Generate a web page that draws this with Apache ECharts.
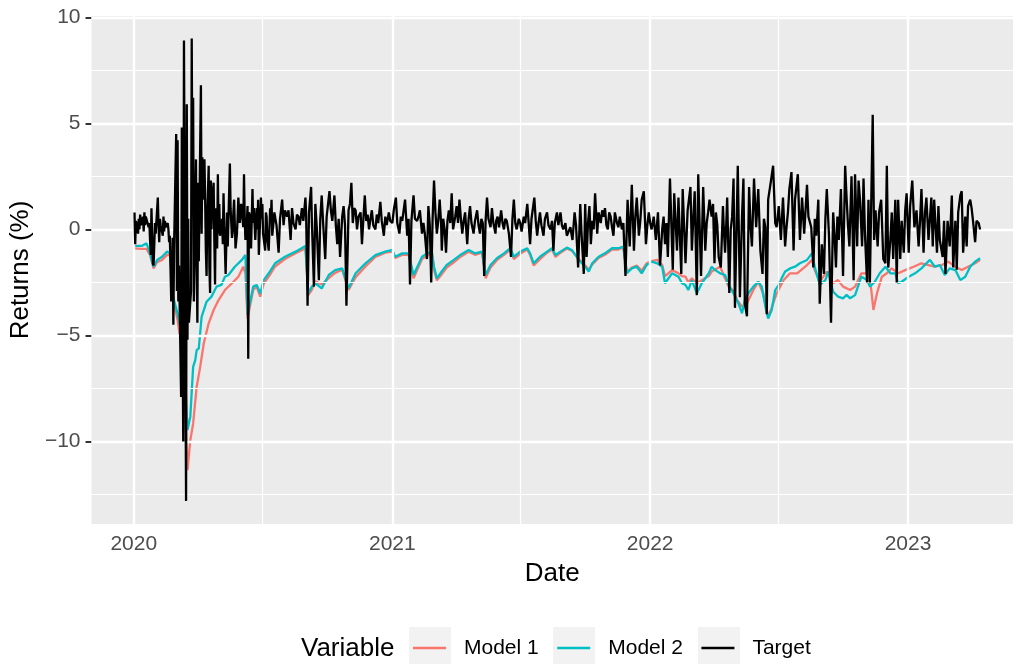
<!DOCTYPE html>
<html>
<head>
<meta charset="utf-8">
<script src="https://cdn.jsdelivr.net/npm/echarts@6/dist/echarts.min.js"></script>
<style>
  html, body { margin: 0; padding: 0; background: #fff; }
  #main { width: 1013px; height: 664px; }
</style>
</head>
<body>
<div id="main"></div>
<script>
// day offsets are counted from 2020-01-01, values in %
const target = [
  [1,0.8],[2,-0.7],[3,0.4],[6,-0.2],[7,0.5],[8,0.0],[9,0.7],[10,0.2],[13,0.6],[14,-0.1],[15,0.8],[16,0.2],[17,0.6],[21,0.1],[22,0.3],[23,-0.5],[24,-1.2],[25,1.0],[27,-1.6],[28,-1.7],[30,0.3],[31,-0.2],[34,1.5],[35,0.2],[36,-0.6],[37,0.5],[38,0.2],[41,-0.3],[42,0.6],[43,-0.1],[44,0.4],[45,0.1],[48,0.3],[49,0.0],[50,-0.6],[51,-0.3],
  [53,-3.4],[54,-3.0],[55,-0.4],[56,-4.5],[57,-0.8],[60,4.5],[61,-2.9],[62,4.2],[63,-3.4],[64,-1.7],[67,-7.9],[68,4.8],[69,-4.9],[70,-10.0],[71,8.9],[74,-12.8],[75,5.9],[76,-5.2],[77,0.5],[78,-4.4],[81,-2.9],[82,9.0],[83,1.1],[84,6.2],[85,-3.4],[88,3.3],[89,-1.6],[90,-4.4],[91,2.2],[92,-1.5],[95,6.8],[96,-0.2],[97,3.4],[98,1.4],
  [100,3.3],[101,1.4],[102,-1.0],[103,-2.2],[104,0.6],[106,3.0],[107,-1.8],[108,-3.0],[109,2.3],[110,0.0],[111,1.4],[113,2.2],[114,-0.5],[115,-2.6],[116,1.0],[118,-0.9],[119,2.6],[120,-0.2],[121,1.2],[122,-0.3],[125,0.5],[126,-0.7],[127,1.7],[128,0.2],[130,-2.1],[132,0.8],[133,-0.8],[134,0.5],[136,3.1],[137,1.0],[139,-0.4],[140,-0.1],[141,0.8],[142,1.4],[144,-0.9],[146,-0.2],[147,0.6],[148,1.5],[150,0.3],[152,1.2],[153,0.8],[155,0.1],[156,2.6],[157,0.5],[158,-0.5],[160,0.3],[161,1.1],[162,-6.1],[163,0.8],[165,0.6],[166,-0.9],[168,1.9],[169,0.3],[170,1.0],[172,-0.5],[174,1.0],[175,0.0],[176,1.4],[177,-1.2],[180,1.5],[181,0.5],[182,1.2],[183,-0.2],[186,-1.0],[187,0.8],[188,0.6],[189,-0.4],[191,-1.0],[193,1.0],[194,0.6],[195,1.4],[196,-0.3],[198,0.4],[199,0.8],
  [200,0.8],[202,0.2],[205,-1.1],[207,0.5],[210,1.4],[212,0.2],[214,0.9],[217,0.6],[219,0.9],[222,-0.5],[224,1.0],[226,0.3],[229,0.0],[231,0.7],[233,0.6],[235,0.2],[238,1.0],[240,0.4],[243,1.5],[244,0.6],[246,-3.6],[248,0.8],[251,2.0],[252,0.5],[255,-2.7],[257,1.2],[259,0.1],[262,-2.4],[264,0.5],[266,1.6],[268,0.3],[271,-1.4],[273,0.6],[277,1.8],[279,0.9],[281,0.4],[284,1.6],[286,0.2],[288,-0.7],[290,0.5],[292,-1.3],[295,0.6],[297,1.1],[299,0.2],[301,-3.6],[304,0.9],[306,1.2],[308,2.2],[310,0.3],[312,1.0],[314,0.9],[316,0.0],[318,0.6],[321,0.8],[323,-0.7],[325,0.5],[327,1.6],[329,0.4],[331,0.7],[333,0.0],[335,0.5],[337,0.9],[339,0.2],[342,0.0],[344,0.7],[346,0.3],[349,1.3],[351,0.4],[354,-0.3],[356,0.6],[358,0.2],[361,0.8],[363,0.4],[366,0.3],[368,0.9],[371,1.5],[373,0.3],[376,-0.2],[378,0.6],[380,0.4],[382,0.9],[384,1.4],[386,0.3],[387,-0.3],[389,0.5],[391,-2.6],[393,0.4],[396,1.6],[398,0.5],[401,0.4],[403,0.6],[405,0.9],
  [408,-0.2],[410,0.3],[412,-0.2],[415,-1.4],[417,1.1],[419,0.2],[421,-2.5],[423,0.5],[425,2.3],[427,0.8],[429,-0.2],[431,0.4],[433,1.4],[435,0.3],[436,-1.0],[438,0.5],[440,0.0],[442,-1.1],[444,0.4],[446,0.9],[448,0.3],[450,1.7],[452,0.0],[455,0.6],[457,1.1],[459,0.3],[461,1.4],[463,0.5],[465,-0.2],[467,0.4],[469,0.8],[472,-0.7],[474,0.5],[476,1.1],[478,0.3],[481,-0.2],[483,0.4],[486,0.9],[488,0.2],[490,-0.2],[492,0.5],[494,0.3],[496,-2.2],[498,0.4],[500,1.5],[502,0.5],[505,0.1],[507,1.0],[509,0.3],[512,-0.2],[513,0.4],[515,0.6],[517,0.1],[520,0.9],[522,0.3],[524,0.0],[526,0.5],[528,0.4],[531,-0.2],[534,-1.3],[536,0.5],[538,1.4],[540,0.3],[542,0.0],[545,0.5],[547,0.3],[549,-0.1],[552,0.6],[554,0.3],[557,1.2],[559,0.3],[561,-0.7],[563,0.5],[567,1.5],[569,0.4],[571,-0.3],[573,0.3],[575,0.8],[577,0.2],[580,-0.3],[582,0.5],[585,0.8],[587,0.2],[590,0.0],[592,0.4],[594,-1.0],[596,0.3],[599,0.8],[601,0.2],[604,0.8],[606,0.2],[608,0.0],[611,0.3],[613,-0.3],
  [615,-0.3],[618,0.1],[621,-0.5],[624,0.8],[626,0.2],[629,-1.8],[632,1.2],[634,-0.3],[637,-2.1],[639,1.2],[641,-1.3],[643,0.3],[645,1.1],[647,-0.7],[649,0.4],[651,0.0],[653,1.7],[656,-0.2],[658,0.8],[661,0.3],[663,0.9],[665,0.6],[667,1.0],[669,0.2],[671,0.0],[673,0.8],[675,0.6],[677,0.1],[679,-0.3],[681,0.8],[684,0.3],[686,0.1],[688,0.6],[691,0.0],[693,0.3],[696,-2.2],[699,1.4],[702,-0.8],[705,2.1],[708,-1.0],[710,0.6],[712,1.5],[715,-0.3],[717,0.4],[719,1.4],[722,1.8],[725,-0.7],[727,0.2],[729,0.8],[731,0.3],[733,0.0],[736,0.6],[739,-0.5],[742,0.8],[745,-1.7],[748,0.0],[750,0.6],[752,-0.7],[754,0.3],[756,-1.3],[759,2.4],[763,-1.9],[765,1.7],[769,-1.0],[771,1.5],[775,-2.1],[777,1.9],[781,-1.6],[784,0.9],[788,2.0],[790,-1.0],[792,0.5],[794,1.8],[797,-3.1],[799,2.6],[803,-2.2],[806,2.0],[809,-1.0],[811,0.3],[813,0.8],[815,1.4],
  [818,0.6],[820,1.2],[822,-1.6],[824,0.8],[826,0.2],[828,-1.3],[831,-1.8],[834,1.1],[835,0.2],[837,-1.1],[839,0.5],[840,1.5],[843,-3.0],[845,0.0],[847,0.6],[849,2.4],[851,-3.7],[855,3.0],[858,-3.2],[861,0.6],[863,2.4],[865,-3.5],[868,-4.1],[871,2.0],[873,0.2],[875,-0.8],[878,2.4],[881,0.1],[884,1.9],[887,-1.0],[890,-2.1],[892,0.5],[894,0.1],[896,-4.0],[898,1.4],[902,2.3],[905,3.0],[908,0.3],[910,0.1],[913,1.1],[916,-0.5],[919,1.5],[922,-0.8],[924,0.1],[926,0.8],[928,1.9],[931,2.7],[934,-1.0],[936,1.4],[940,2.6],[943,-0.5],[946,1.5],[949,-0.2],[953,2.1],[955,0.6],[959,0.1],[962,-1.8],[964,0.5],[966,-0.3],[969,1.4],[971,-3.5],[974,-0.7],[977,-2.1],[979,0.5],[981,1.9],[984,-0.2],[987,-4.4],[990,0.8],[992,-0.3],[994,-1.8],[996,0.6],[998,-0.5],[1001,1.9],[1004,-2.2],[1007,3.0],[1009,1.5],[1011,0.2],[1013,-0.8],[1016,2.5],[1019,-2.4],
  [1021,2.6],[1024,-0.8],[1026,2.3],[1028,1.4],[1031,-0.8],[1033,2.4],[1035,-0.2],[1038,-2.5],[1040,1.4],[1042,-2.5],[1046,5.4],[1048,-0.5],[1050,0.9],[1053,-0.8],[1055,0.8],[1058,1.4],[1061,-1.4],[1064,-1.6],[1066,3.0],[1068,-1.8],[1071,-0.5],[1073,0.8],[1075,-1.4],[1078,1.4],[1080,-2.5],[1082,1.4],[1085,-1.4],[1087,0.4],[1090,-1.1],[1092,0.9],[1094,1.7],[1097,-1.1],[1099,1.1],[1102,2.3],[1105,0.1],[1108,0.9],[1111,-0.8],[1113,0.4],[1115,1.9],[1118,-1.1],[1120,0.8],[1122,1.5],[1125,-0.5],[1129,1.5],[1131,-0.8],[1133,1.4],[1137,-1.1],[1139,1.1],[1141,-0.5],[1145,-1.3],[1147,0.4],[1149,-2.1],[1152,0.4],[1155,-0.8],[1158,1.6],[1160,-1.8],[1163,0.4],[1165,-1.9],[1167,0.8],[1170,1.6],[1172,1.8],[1174,-1.1],[1177,0.6],[1179,-0.8],[1181,1.1],[1184,1.4],[1186,1.0],[1188,0.4],[1191,-0.6],[1193,0.4],[1196,0.3],[1198,0.0]
];

const model1 = [
  [1,-0.9],[11,-0.92],[18,-0.92],[23,-1.21],[28,-1.84],[33,-1.55],[40,-1.44],[47,-1.2],[52,-1.21],[54,-3.0],[58,-3.65],[62,-4.27],[68,-5.69],[73,-8.83],[76,-11.35],[80,-9.94],[84,-9.15],[89,-7.42],[94,-6.48],[99,-5.38],[106,-4.43],[113,-3.8],[120,-3.33],[129,-2.86],[139,-2.54],[148,-2.23],[155,-1.76],[158,-2.07],[161,-4.2],[169,-2.86],[174,-2.7],[179,-3.17],[184,-2.55],[191,-2.23],[200,-1.75],[214,-1.4],[229,-1.12],[243,-0.9],[247,-3.1],[252,-2.85],[257,-2.45],[266,-2.6],[276,-2.3],[285,-2.05],[295,-1.9],[304,-2.85],[314,-2.25],[328,-1.75],[342,-1.3],[356,-1.1],[366,-1.05],[370,-1.35],[380,-1.2],[389,-1.2],[396,-2.3],[408,-1.4],
  [415,-1.25],[422,-1.15],[425,-1.9],[429,-2.4],[434,-2.2],[443,-1.8],[453,-1.55],[462,-1.3],[474,-1.05],[483,-1.2],[493,-1.1],[498,-2.3],[505,-1.8],[514,-1.45],[524,-1.2],[533,-0.95],[538,-1.4],[547,-1.15],[557,-0.95],[561,-1.2],[566,-1.7],[575,-1.4],[585,-1.1],[592,-0.95],[597,-1.3],[604,-1.1],[613,-0.9],[620,-1.0],[630,-1.4],[639,-1.7],[644,-1.9],[649,-1.65],[658,-1.35],[667,-1.2],[677,-0.95],[686,-0.95],[693,-0.85],[698,-2.0],[705,-1.8],[712,-1.7],[719,-1.95],[726,-1.6],[733,-1.5],[741,-1.44],[748,-1.68],[752,-2.2],[762,-1.92],[771,-2.07],[776,-2.2],[781,-2.23],[785,-2.5],[790,-2.31],[797,-2.54],[804,-2.4],[814,-2.2],
  [818,-1.99],[830,-1.76],[842,-2.7],[849,-2.9],[854,-3.33],[861,-3.64],[868,-3.49],[877,-2.86],[884,-2.47],[891,-3.02],[898,-4.12],[903,-3.7],[910,-3.02],[920,-2.39],[929,-2.07],[939,-2.07],[953,-1.68],[960,-1.44],[964,-1.92],[971,-2.47],[981,-1.99],[990,-2.54],[997,-2.39],[1004,-2.7],[1014,-2.86],[1021,-2.7],[1030,-2.07],[1040,-2.07],[1044,-2.86],[1047,-3.8],[1052,-3.02],[1059,-2.23],[1066,-2.07],[1073,-1.84],[1082,-2.07],[1092,-1.92],[1104,-1.76],[1115,-1.6],[1125,-1.68],[1134,-1.76],[1144,-1.68],[1153,-1.52],[1163,-1.76],[1172,-1.92],[1181,-1.76],[1191,-1.6],[1198,-1.44]
];

const model2 = [
  [1,-0.78],[11,-0.78],[18,-0.66],[23,-1.13],[28,-1.76],[33,-1.44],[40,-1.29],[47,-1.05],[52,-1.13],[54,-2.9],[58,-3.49],[62,-3.96],[68,-4.9],[73,-7.26],[76,-9.46],[80,-8.83],[84,-6.48],[87,-6.16],[89,-5.69],[92,-5.61],[96,-4.12],[103,-3.41],[110,-3.17],[117,-2.7],[124,-2.62],[129,-2.23],[134,-2.15],[143,-1.76],[153,-1.44],[158,-1.21],[161,-4.04],[169,-2.7],[174,-2.62],[179,-3.02],[184,-2.39],[191,-2.07],[200,-1.6],[214,-1.29],[229,-1.05],[243,-0.78],[247,-3.02],[252,-2.7],[257,-2.54],[266,-2.78],[276,-2.15],[285,-1.92],[295,-1.84],[304,-2.78],[314,-2.07],[328,-1.6],[342,-1.21],[356,-1.05],[366,-0.97],[370,-1.29],[380,-1.13],[389,-1.13],[396,-2.15],[408,-1.29],
  [415,-1.13],[422,-1.05],[425,-1.76],[429,-2.31],[434,-2.07],[443,-1.68],[453,-1.44],[462,-1.21],[474,-0.97],[483,-1.13],[493,-1.05],[498,-2.15],[505,-1.68],[514,-1.36],[524,-1.13],[533,-0.89],[538,-1.29],[547,-1.05],[557,-0.89],[561,-1.13],[566,-1.6],[575,-1.29],[585,-1.05],[592,-0.89],[597,-1.21],[604,-1.05],[613,-0.86],[620,-0.97],[630,-1.44],[639,-1.76],[644,-1.99],[649,-1.6],[658,-1.29],[667,-1.13],[677,-0.89],[686,-0.89],[693,-0.81],[698,-2.07],[705,-1.84],[712,-1.76],[719,-2.07],[726,-1.68],[733,-1.52],[741,-1.6],[748,-1.76],[752,-2.54],[762,-2.07],[771,-2.23],[776,-2.54],[781,-2.62],[785,-2.86],[790,-2.39],[797,-3.02],[804,-2.54],[814,-2.07],
  [818,-1.76],[823,-1.92],[830,-2.07],[837,-2.15],[842,-2.62],[849,-3.02],[856,-3.49],[861,-3.96],[865,-3.33],[870,-3.02],[877,-2.7],[884,-2.47],[889,-2.7],[894,-3.64],[898,-4.2],[903,-3.8],[908,-2.86],[913,-2.62],[917,-2.31],[922,-1.99],[929,-1.84],[936,-1.76],[943,-1.6],[953,-1.44],[960,-1.13],[964,-1.76],[971,-2.62],[979,-2.39],[983,-1.99],[990,-2.94],[997,-3.17],[1004,-3.25],[1009,-3.09],[1014,-3.25],[1021,-3.1],[1026,-2.62],[1030,-2.23],[1038,-2.39],[1042,-2.7],[1049,-2.47],[1056,-2.07],[1064,-1.76],[1071,-2.07],[1078,-2.07],[1082,-2.54],[1087,-2.47],[1097,-2.23],[1106,-2.07],[1115,-1.84],[1122,-1.6],[1127,-1.44],[1134,-1.76],[1141,-1.68],[1148,-2.15],[1155,-1.84],[1163,-1.92],[1170,-2.39],[1177,-2.23],[1184,-1.76],[1191,-1.52],[1198,-1.36]
];

const yearTicks = ['2020-01-01', '2021-01-01', '2022-01-01', '2023-01-01'];
const halfYears = ['2020-07-01', '2021-07-01', '2022-07-01'];
const yMajor = [-10, -5, 0, 5, 10];
const yMinor = [-12.5, -7.5, -2.5, 2.5, 7.5];

const DAY = 864e5;
const BASE = Date.UTC(2020, 0, 1);
const FONT = "'Liberation Sans', Arial, sans-serif";

function toPts(arr) {
  return arr.map(function (p) { return [BASE + p[0] * DAY, p[1]]; });
}
function ts(s) { return Date.parse(s + 'T00:00:00Z'); }

const chart = echarts.init(document.getElementById('main'), null, { renderer: 'canvas' });

var gridMajor = yMajor.map(function (v) { return { yAxis: v }; })
  .concat(yearTicks.map(function (d) { return { xAxis: ts(d) }; }));
var gridMinor = yMinor.map(function (v) { return { yAxis: v }; })
  .concat(halfYears.map(function (d) { return { xAxis: ts(d) }; }));

// grey legend key boxes behind the legend lines
var keyBoxes = [409, 553, 698].map(function (x) {
  return { type: 'rect', left: x, top: 627, z: -1, shape: { width: 42, height: 41 }, style: { fill: '#F2F2F2' } };
});

var option = {
  animation: false,
  backgroundColor: '#ffffff',
  grid: {
    left: 91, right: 0, top: 16, bottom: 140,
    show: true, backgroundColor: '#EBEBEB', borderWidth: 0
  },
  xAxis: {
    type: 'value',
    min: BASE - 59.85 * DAY,
    max: BASE + 1244.6 * DAY,
    name: 'Date',
    nameLocation: 'middle',
    nameGap: 37,
    nameTextStyle: { color: '#000', fontSize: 26, fontFamily: FONT },
    axisLine: { show: false },
    splitLine: { show: false },
    axisTick: { show: true, length: 6, customValues: yearTicks.map(ts), lineStyle: { color: '#333333', width: 2 } },
    axisLabel: {
      customValues: yearTicks.map(ts),
      margin: 10,
      color: '#4D4D4D', fontSize: 21, fontFamily: FONT,
      formatter: function (v) { return String(new Date(v).getUTCFullYear()); }
    }
  },
  yAxis: {
    type: 'value',
    min: -13.89,
    max: 10.06,
    name: 'Returns (%)',
    nameLocation: 'middle',
    nameRotate: 90,
    nameGap: 55,
    nameTextStyle: { color: '#000', fontSize: 26, fontFamily: FONT },
    axisLine: { show: false },
    splitLine: { show: false },
    axisTick: { show: true, length: 6, customValues: yMajor, lineStyle: { color: '#333333', width: 2 } },
    axisLabel: {
      customValues: yMajor,
      margin: 11,
      color: '#4D4D4D', fontSize: 21, fontFamily: FONT,
      formatter: function (v) { return v < 0 ? '\u2212' + Math.abs(v) : String(v); }
    }
  },
  legend: {
    data: ['Model 1', 'Model 2', 'Target'],
    left: 413,
    top: 636,
    padding: 0,
    orient: 'horizontal',
    icon: 'rect',
    itemWidth: 33,
    itemHeight: 2.5,
    itemGap: 18.5,
    textStyle: { color: '#000', fontSize: 21, fontFamily: FONT, padding: [0, 0, 0, 13], lineHeight: 24 }
  },
  graphic: keyBoxes.concat([
    { type: 'text', left: 301, top: 636, style: { text: 'Variable', fill: '#000', fontSize: 26, fontFamily: FONT } }
  ]),
  series: [
    {
      name: 'gridMinor', type: 'line', data: [], z: 1, silent: true,
      markLine: { silent: true, symbol: ['none', 'none'], label: { show: false },
        lineStyle: { color: '#ffffff', type: 'solid', width: 1.2 }, data: gridMinor }
    },
    {
      name: 'gridMajor', type: 'line', data: [], z: 1, silent: true,
      markLine: { silent: true, symbol: ['none', 'none'], label: { show: false },
        lineStyle: { color: '#ffffff', type: 'solid', width: 2.4 }, data: gridMajor }
    },
    {
      name: 'Model 1', type: 'line', data: toPts(model1), z: 3,
      showSymbol: false, color: '#F8766D', lineStyle: { width: 2.3, color: '#F8766D' }
    },
    {
      name: 'Model 2', type: 'line', data: toPts(model2), z: 4,
      showSymbol: false, color: '#00BFC4', lineStyle: { width: 2.3, color: '#00BFC4' }
    },
    {
      name: 'Target', type: 'line', data: toPts(target), z: 5,
      showSymbol: false, color: '#000000', lineStyle: { width: 2.3, color: '#000000' }
    }
  ]
};

chart.setOption(option);
</script>
</body>
</html>
